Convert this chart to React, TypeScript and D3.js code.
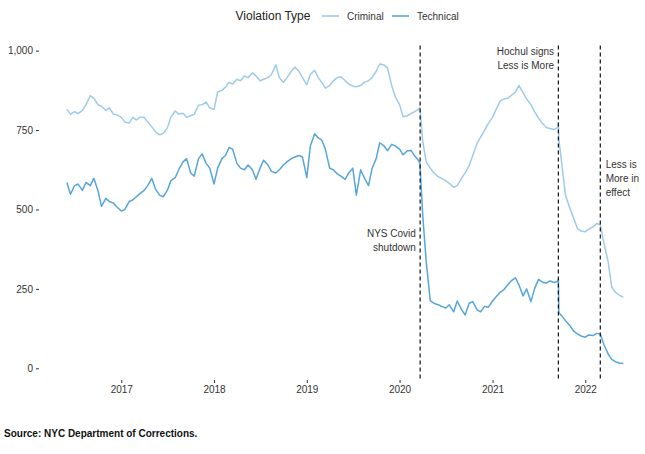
import * as React from 'react';
import * as d3 from 'd3';

// semi-monthly readings, with extra points at the policy / covid breaks
const dates: string[] = [
  '2016-06-01', '2016-06-15', '2016-07-01', '2016-07-15', '2016-08-01', '2016-08-15', '2016-09-01', '2016-09-15',
  '2016-10-01', '2016-10-15', '2016-11-01', '2016-11-15', '2016-12-01', '2016-12-15',
  '2017-01-01', '2017-01-15', '2017-02-01', '2017-02-15', '2017-03-01', '2017-03-15', '2017-04-01', '2017-04-15',
  '2017-05-01', '2017-05-15', '2017-06-01', '2017-06-15', '2017-07-01', '2017-07-15', '2017-08-01', '2017-08-15',
  '2017-09-01', '2017-09-15', '2017-10-01', '2017-10-15', '2017-11-01', '2017-11-15', '2017-12-01', '2017-12-15',
  '2018-01-01', '2018-01-15', '2018-02-01', '2018-02-15', '2018-03-01', '2018-03-15', '2018-04-01', '2018-04-15',
  '2018-05-01', '2018-05-15', '2018-06-01', '2018-06-15', '2018-07-01', '2018-07-15', '2018-08-01', '2018-08-15',
  '2018-09-01', '2018-09-15', '2018-10-01', '2018-10-15', '2018-11-01', '2018-11-15', '2018-12-01', '2018-12-15',
  '2019-01-01', '2019-01-15', '2019-02-01', '2019-02-15', '2019-03-01', '2019-03-15', '2019-04-01', '2019-04-15',
  '2019-05-01', '2019-05-15', '2019-06-01', '2019-06-15', '2019-07-01', '2019-07-15', '2019-08-01', '2019-08-15',
  '2019-09-01', '2019-09-15', '2019-10-01', '2019-10-15', '2019-11-01', '2019-11-15', '2019-12-01', '2019-12-15',
  '2020-01-01', '2020-01-15', '2020-02-01', '2020-02-15', '2020-03-01', '2020-03-15', '2020-03-21', '2020-04-01',
  '2020-04-15', '2020-05-01', '2020-05-15', '2020-06-01', '2020-06-15', '2020-07-01', '2020-07-15', '2020-08-01',
  '2020-08-15', '2020-09-01', '2020-09-15', '2020-10-01', '2020-10-15', '2020-11-01', '2020-11-15', '2020-12-01',
  '2020-12-15',
  '2021-01-01', '2021-01-15', '2021-02-01', '2021-02-15', '2021-03-01', '2021-03-15', '2021-04-01', '2021-04-15',
  '2021-05-01', '2021-05-15', '2021-06-01', '2021-06-15', '2021-07-01', '2021-07-15', '2021-08-01', '2021-08-15',
  '2021-09-01', '2021-09-15', '2021-09-17', '2021-09-19', '2021-10-01', '2021-10-15', '2021-11-01', '2021-11-15',
  '2021-12-01', '2021-12-15',
  '2022-01-01', '2022-01-15', '2022-02-01', '2022-02-15', '2022-03-01', '2022-03-15', '2022-04-01', '2022-04-15',
  '2022-05-01', '2022-05-15', '2022-05-31'
];

const criminal: number[] = [
  815, 800, 808, 802, 812, 830, 858, 850, 830, 825, 812, 820, 800, 798,
  790, 775, 772, 790, 782, 790, 790, 775, 760, 745, 735, 740, 756, 790, 810, 800, 803, 790, 795, 800, 828, 830, 838, 820,
  815, 870, 875, 885, 900, 895, 910, 905, 920, 915, 930, 920, 905, 910, 915, 925, 955, 915, 900, 915, 935, 948, 935, 915,
  893, 925, 938, 915, 900, 882, 890, 905, 915, 918, 905, 895, 888, 886, 890, 900, 905, 915, 935, 958, 955, 945, 890, 855,
  830, 792, 795, 802, 808, 815, 822, 715, 650, 630, 615, 603, 598, 590, 582, 570, 575, 598, 615, 638, 670, 708, 728, 750, 770,
  790, 815, 842, 848, 850, 858, 870, 890, 868, 848, 830, 808, 788, 772, 758, 755, 752, 758, 772, 720, 640, 545, 505, 475, 440, 432,
  430, 438, 446, 456, 452, 395, 335, 255, 238, 230, 224
];

const technical: number[] = [
  585, 548, 575, 580, 560, 585, 575, 598, 560, 510, 535, 525, 520, 508,
  495, 500, 525, 530, 540, 550, 560, 575, 598, 565, 545, 540, 560, 590, 600, 625, 650, 660, 615, 605, 660, 675, 645, 630,
  580, 630, 660, 670, 695, 690, 645, 630, 625, 640, 625, 595, 630, 655, 640, 620, 615, 625, 640, 650, 660, 665, 670, 665,
  600, 700, 738, 725, 718, 690, 630, 625, 612, 605, 595, 615, 630, 545, 625, 600, 575, 630, 660, 710, 700, 685, 705, 700,
  690, 672, 685, 686, 668, 655, 646, 485, 335, 212, 205, 200, 195, 190, 200, 178, 212, 185, 168, 205, 210, 185, 178, 195, 192,
  212, 225, 240, 248, 262, 275, 285, 262, 228, 250, 210, 250, 280, 272, 268, 275, 270, 274, 280, 175, 165, 150, 135, 118, 108, 102,
  98, 105, 103, 110, 108, 75, 45, 28, 20, 17, 15
];

const seriesNames = ['Criminal', 'Technical'];
const seriesColors = ['#9ecbea', '#56a5db'];

const yTicks = [0, 250, 500, 750, 1000];
const xTickYears = [2017, 2018, 2019, 2020, 2021, 2022];

const events = [
  { date: '2020-03-22', lines: ['NYS Covid', 'shutdown'], side: 'left', at: 412 },
  { date: '2021-09-17', lines: ['Hochul signs', 'Less is More'], side: 'left', at: 985 },
  { date: '2022-03-01', lines: ['Less is', 'More in', 'effect'], side: 'right', at: 630 }
];

const FONT = '"Liberation Sans", Arial, Helvetica, sans-serif';

const App = () => {
  const ref = React.useRef<SVGSVGElement>(null);
  const width = 645;
  const height = 454;

  React.useEffect(() => {
    const svg = d3.select(ref.current);
    svg.selectAll('*').remove();

    const parse = d3.timeParse('%Y-%m-%d');
    const x = d3.scaleTime()
      .domain([new Date(2017, 0, 1), new Date(2022, 0, 1)])
      .range([121.3, 585.3]);
    const y = d3.scaleLinear()
      .domain([-35.8, 1015.8])
      .range([379.7, 45.6]);

    const parsed = dates.map(d => parse(d) as Date);

    // y axis
    const yAxis = svg.append('g')
      .attr('transform', 'translate(39,0)')
      .call(d3.axisLeft(y).tickValues(yTicks).tickFormat(d3.format(',') as any).tickSize(3).tickPadding(3));
    yAxis.select('.domain').remove();
    yAxis.selectAll('line').attr('stroke', '#333');
    yAxis.selectAll('text').attr('fill', '#333').style('font-size', '10px').style('font-family', FONT);

    // x axis
    const xAxis = svg.append('g')
      .attr('transform', 'translate(0,380)')
      .call(d3.axisBottom(x)
        .tickValues(xTickYears.map(yr => new Date(yr, 0, 1)))
        .tickFormat(d3.timeFormat('%Y') as any)
        .tickSize(3).tickPadding(3));
    xAxis.select('.domain').remove();
    xAxis.selectAll('line').attr('stroke', '#333');
    xAxis.selectAll('text').attr('fill', '#333').style('font-size', '10px').style('font-family', FONT);

    // lines
    const line = d3.line<number>()
      .x((d, i) => x(parsed[i]))
      .y(d => y(d));

    [criminal, technical].forEach((vals, k) => {
      svg.append('path')
        .datum(vals)
        .attr('d', line)
        .attr('fill', 'none')
        .attr('stroke', seriesColors[k])
        .attr('stroke-width', 1.5)
        .attr('stroke-linejoin', 'round');
    });

    // event markers
    events.forEach(ev => {
      const ex = x(parse(ev.date) as Date);
      svg.append('line')
        .attr('x1', ex).attr('x2', ex)
        .attr('y1', y.range()[1]).attr('y2', y.range()[0])
        .attr('stroke', '#111')
        .attr('stroke-width', 1.2)
        .attr('stroke-dasharray', '4,3');
      const t = svg.append('text')
        .attr('text-anchor', ev.side === 'left' ? 'end' : 'start')
        .style('font-size', '10px')
        .style('font-family', FONT)
        .attr('fill', '#333');
      ev.lines.forEach((s, i) => {
        t.append('tspan')
          .attr('x', ev.side === 'left' ? ex - 4.3 : ex + 5.4)
          .attr('y', y(ev.at) + i * 14)
          .text(s);
      });
    });

    // legend
    const leg = svg.append('g').style('font-family', FONT);
    leg.append('text')
      .attr('x', 235.5).attr('y', 20.3)
      .style('font-size', '12px')
      .attr('fill', '#222')
      .text('Violation Type');
    const keyX = [322, 392];
    seriesNames.forEach((name, i) => {
      leg.append('line')
        .attr('x1', keyX[i]).attr('x2', keyX[i] + 17)
        .attr('y1', 16).attr('y2', 16)
        .attr('stroke', seriesColors[i])
        .attr('stroke-width', 1.6);
      leg.append('text')
        .attr('x', keyX[i] + 25).attr('y', 19.5)
        .style('font-size', '10px')
        .attr('fill', '#333')
        .text(name);
    });

    // caption
    svg.append('text')
      .attr('x', 4).attr('y', 436.5)
      .style('font-size', '10px')
      .style('font-weight', 'bold')
      .style('font-family', FONT)
      .attr('fill', '#111')
      .text('Source: NYC Department of Corrections.');
  }, []);

  return (
    <svg ref={ref} width={width} height={height}
      style={{ position: 'absolute', left: 0, top: 0, background: '#fff' }} />
  );
};

export default App;
